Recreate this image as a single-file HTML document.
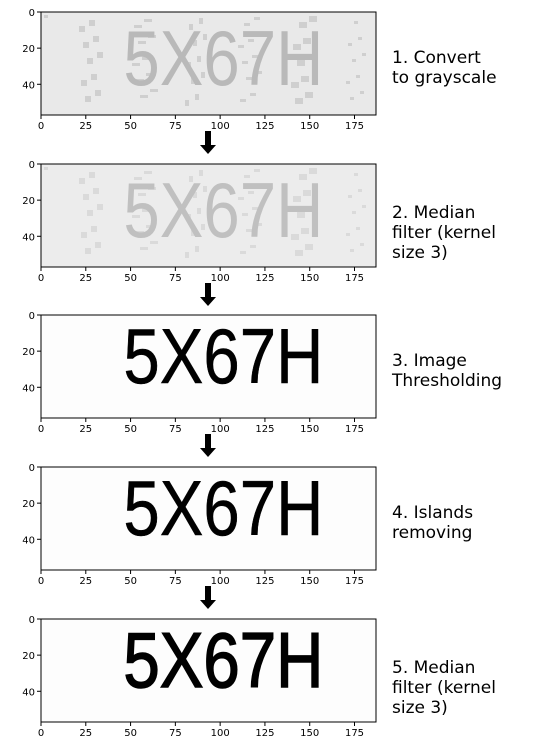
<!DOCTYPE html>
<html><head><meta charset="utf-8"><style>
body{margin:0;background:#fff;width:536px;height:745px;overflow:hidden}
svg{display:block}
text{font-family:"DejaVu Sans","Liberation Sans",sans-serif}
</style></head><body>
<svg id="fig" width="536" height="745"></svg>
<script>
const xTicks=[0,25,50,75,100,125,150,175];
const yTicks=[0,20,40];
const imgW=187, imgH=57;
const panelTops=[12,164,315,467,619];
const labels=[["1. Convert","to grayscale"],["2. Median","filter (kernel","size 3)"],["3. Image","Thresholding"],["4. Islands","removing"],["5. Median","filter (kernel","size 3)"]];
const bgColors=["#e9e9e9","#ececec","#fdfdfd","#fdfdfd","#fdfdfd"];
const textColors=["#b9b9b9","#c0c0c0","#000","#000","#000"];
const strokeW=[0,0,0.5,0.5,1.5];
const captcha="5X67H";
const NS="http://www.w3.org/2000/svg";
const svg=document.getElementById('fig');
const L=41,R=376,H=103;
const sx=v=>L+v*(R-L)/imgW;
function el(t,a,p){const e=document.createElementNS(NS,t);for(const k in a)e.setAttribute(k,a[k]);(p||svg).appendChild(e);return e;}
panelTops.forEach((top,i)=>{
  const sy=v=>top+v*H/imgH;
  const g=el('g',{});
  
  
  const bg=el('rect',{x:L,y:top,width:R-L,height:H,fill:bgColors[i]},g);
  
  
  if(i<2){
    for(let k=0;k<60;k++){
      const px=L+((k*53)%320)+3, py=top+((k*37)%92)+3;
      el('rect',{x:px,y:py,width:4+(k%3)*2,height:3+(k%2)*3,fill:i==0?"#cfcfcf":"#dadada"},g);
    }
  }
  const t=el('text',{x:sx(46),y:top+(i<2?73:68),'font-size':78,'textLength':200,lengthAdjust:'spacingAndGlyphs',fill:textColors[i],stroke:textColors[i],'stroke-width':strokeW[i],style:'font-family:"Liberation Sans",sans-serif'},g);
  t.textContent=captcha;
  
  
  el('rect',{x:L,y:top,width:R-L,height:H,fill:'none',stroke:'#000','stroke-width':1},g);
  xTicks.forEach(v=>{
    el('line',{x1:sx(v),x2:sx(v),y1:top+H,y2:top+H+4,stroke:'#000'},g);
    const tl=el('text',{x:sx(v),y:top+H+14,'font-size':10,'text-anchor':'middle'},g);
    tl.textContent=v;
    
    
  });
  yTicks.forEach(v=>{
    el('line',{x1:L-4,x2:L,y1:sy(v),y2:sy(v),stroke:'#000'},g);
    const tl=el('text',{x:L-6,y:sy(v)+4,'font-size':10,'text-anchor':'end'},g);
    tl.textContent=v;
    
    
  });
  const lt=el('text',{x:392,y:top+(labels[i].length==3?54:51),'font-size':17},g);
  
  
  labels[i].forEach((s,j)=>{const ts=el('tspan',{x:392,dy:j?20:0},lt);ts.textContent=s;});
  if(i<4){
    const a=el('path',{d:`M205 ${top+119} h6 v14 h5 l-8 9 l-8 -9 h5 z`,fill:'#000'});
    
    
  }
});
</script>
</body></html>
